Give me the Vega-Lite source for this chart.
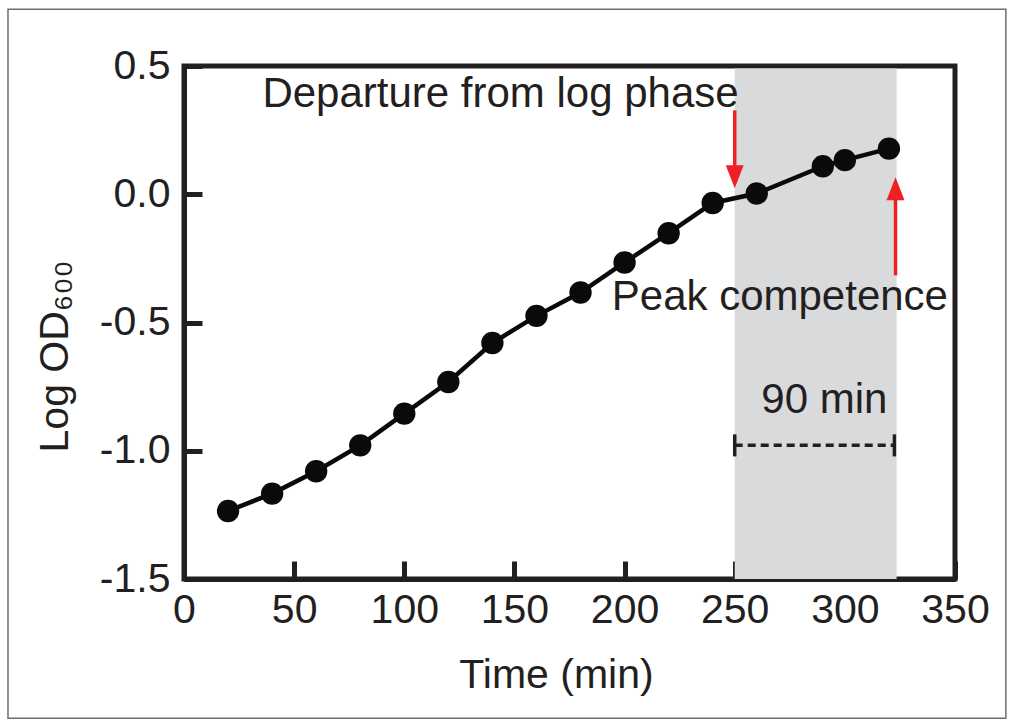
{
  "$schema": "https://vega.github.io/schema/vega-lite/v6.json",
  "width": 771,
  "height": 513,
  "autosize": {"type": "none"},
  "padding": {"left": 184, "top": 66, "right": 60, "bottom": 147},
  "background": "white",
  "config": {
    "view": {"stroke": "#231f20", "strokeWidth": 5},
    "font": "Liberation Sans",
    "axis": {
      "grid": false,
      "zindex": 1,
      "domainColor": "#231f20", "domainWidth": 5,
      "tickColor": "#231f20", "tickWidth": 5, "tickSize": -18,
      "labelFontSize": 41, "labelColor": "#231f20",
      "labelFlush": false, "labelOverlap": false,
      "titleFontSize": 41, "titleFontWeight": "normal", "titleColor": "#231f20"
    },
    "axisX": {"labelPadding": 29, "titleBaseline": "alphabetic", "titleX": 372, "titleY": 108},
    "axisY": {"labelPadding": 32, "titleAngle": -90, "titleBaseline": "alphabetic", "titleAlign": "center", "titleX": -117, "titleY": 290}
  },
  "datasets": {
    "frame": [{"x0": -79.9, "x1": 373.1, "y0": 0.721, "y1": -2.043}],
    "growth": [
      {"time": 20, "logod": -1.235},
      {"time": 40, "logod": -1.167},
      {"time": 60, "logod": -1.080},
      {"time": 80, "logod": -0.979},
      {"time": 100, "logod": -0.855},
      {"time": 120, "logod": -0.732},
      {"time": 140, "logod": -0.580},
      {"time": 160, "logod": -0.474},
      {"time": 180, "logod": -0.383},
      {"time": 200, "logod": -0.266},
      {"time": 220, "logod": -0.152},
      {"time": 240, "logod": -0.034},
      {"time": 260, "logod": 0.003},
      {"time": 290, "logod": 0.109},
      {"time": 300, "logod": 0.133},
      {"time": 320, "logod": 0.178}
    ],
    "shade": [{"t0": 250, "t1": 323.5, "v0": -1.5, "v1": 0.49}],
    "arrows": [
      {"t": 250, "from": 0.327, "to": 0.068, "dir": "down"},
      {"t": 323, "from": -0.316, "to": 0.021, "dir": "up"}
    ],
    "span": [{"t0": 250, "t1": 322.5, "v": -0.979}],
    "caps": [
      {"t": 250, "v0": -1.022, "v1": -0.936},
      {"t": 322.5, "v0": -1.022, "v1": -0.936}
    ],
    "labels": [
      {"t": 143.7, "v": 0.339, "text": "Departure from log phase"},
      {"t": 270.5, "v": -0.452, "text": "Peak competence"},
      {"t": 290.7, "v": -0.854, "text": "90 min"}
    ]
  },
  "encoding": {
    "x": {
      "type": "quantitative",
      "scale": {"domain": [0, 350], "nice": false, "zero": false},
      "axis": {"values": [0, 50, 100, 150, 200, 250, 300, 350], "title": "Time (min)"}
    },
    "y": {
      "type": "quantitative",
      "scale": {"domain": [-1.5, 0.5], "nice": false, "zero": false},
      "axis": {
        "values": [-1.5, -1.0, -0.5, 0.0, 0.5],
        "format": ".1f",
        "labelExpr": "replace(datum.label, '\u2212', '-')",
        "title": "Log OD₆₀₀"
      }
    }
  },
  "layer": [
    {
      "data": {"name": "frame"},
      "mark": {"type": "rect", "fill": "transparent", "stroke": "#6d6e71", "strokeWidth": 1.5, "clip": false},
      "encoding": {
        "x": {"field": "x0"},
        "x2": {"field": "x1"},
        "y": {"field": "y0"},
        "y2": {"field": "y1"}
      }
    },
    {
      "data": {"name": "shade"},
      "mark": {"type": "rect", "fill": "#d9dadc"},
      "encoding": {
        "x": {"field": "t0"},
        "x2": {"field": "t1"},
        "y": {"field": "v0"},
        "y2": {"field": "v1"}
      }
    },
    {
      "data": {"name": "growth"},
      "mark": {"type": "line", "stroke": "#0a0a0a", "strokeWidth": 4.5},
      "encoding": {
        "x": {"field": "time"},
        "y": {"field": "logod"}
      }
    },
    {
      "data": {"name": "growth"},
      "mark": {"type": "point", "filled": true, "fill": "#0a0a0a", "opacity": 1, "size": 500, "shape": "circle", "strokeWidth": 0},
      "encoding": {
        "x": {"field": "time"},
        "y": {"field": "logod"}
      }
    },
    {
      "data": {"name": "arrows"},
      "mark": {"type": "rule", "stroke": "#ee2024", "strokeWidth": 3.5},
      "encoding": {
        "x": {"field": "t"},
        "y": {"field": "from"},
        "y2": {"field": "to"}
      }
    },
    {
      "data": {"name": "arrows"},
      "mark": {"type": "point", "filled": true, "fill": "#ee2024", "opacity": 1, "size": 529, "strokeWidth": 0},
      "encoding": {
        "x": {"field": "t"},
        "y": {"field": "to"},
        "shape": {
          "field": "dir", "type": "nominal",
          "scale": {"domain": ["down", "up"], "range": ["M-0.78,-1L0.78,-1L0,1Z", "M-0.78,1L0.78,1L0,-1Z"]},
          "legend": null
        }
      }
    },
    {
      "data": {"name": "span"},
      "mark": {"type": "rule", "stroke": "#231f20", "strokeWidth": 3.5, "strokeDash": [8, 5]},
      "encoding": {
        "x": {"field": "t0"},
        "x2": {"field": "t1"},
        "y": {"field": "v"}
      }
    },
    {
      "data": {"name": "caps"},
      "mark": {"type": "rule", "stroke": "#231f20", "strokeWidth": 3.5},
      "encoding": {
        "x": {"field": "t"},
        "y": {"field": "v0"},
        "y2": {"field": "v1"}
      }
    },
    {
      "data": {"name": "labels"},
      "mark": {"type": "text", "font": "Liberation Sans", "fontSize": 42, "fill": "#231f20", "align": "center", "baseline": "alphabetic"},
      "encoding": {
        "x": {"field": "t"},
        "y": {"field": "v"},
        "text": {"field": "text", "type": "nominal"}
      }
    }
  ]
}
